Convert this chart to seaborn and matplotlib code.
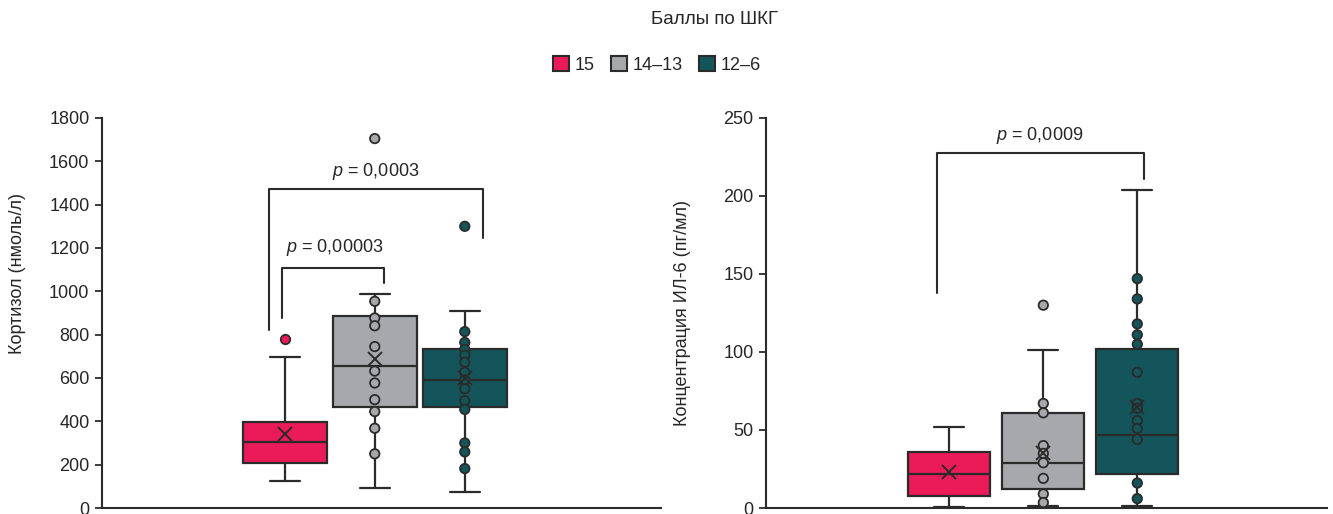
import pandas as pd
import seaborn as sns
import matplotlib.pyplot as plt
from matplotlib.patches import Patch

sns.set_style('ticks')
plt.rcParams['font.family'] = ['Liberation Sans', 'DejaVu Sans']
plt.rcParams['font.size'] = 13
plt.rcParams['mathtext.fontset'] = 'custom'
plt.rcParams['mathtext.it'] = 'Liberation Sans:italic'

groups = ['15', '14–13', '12–6']
colors = ['#EB1A58', '#A7A8AB', '#13555A']
dark = '#2B2B2B'

# Кортизол: сводные значения по группам
cort_q1 = [209, 464, 464]
cort_med = [305, 655, 591]
cort_q3 = [395, 886, 736]
cort_lo = [123, 91, 73]
cort_hi = [695, 986, 909]
cort_mean = [341, 686, 600]
cort_pts_15 = [782]
cort_pts_1413 = [1705, 954, 877, 841, 745, 632, 577, 500, 445, 368, 250]
cort_pts_126 = [1300, 814, 764, 732, 705, 673, 627, 591, 550, 495, 455, 300, 259, 182]

# ИЛ-6
il6_q1 = [8, 12.5, 21.5]
il6_med = [21.5, 29, 47]
il6_q3 = [36, 61, 102]
il6_lo = [0.5, 1, 1]
il6_hi = [52, 101, 204]
il6_mean = [23, 35, 65]
il6_pts_15 = []
il6_pts_1413 = [130, 67, 61, 40, 35, 29, 19, 9, 3.5]
il6_pts_126 = [147, 134, 118, 111, 105, 87, 67, 64, 56, 51, 44, 16, 6]


def long_df(p15, p1413, p126):
    rows = [(groups[0], v) for v in p15] + [(groups[1], v) for v in p1413] + [(groups[2], v) for v in p126]
    return pd.DataFrame(rows, columns=['group', 'value'])


def draw_panel(ax, q1, med, q3, lo, hi, mean, df, width, capw):
    stats = []
    for i in range(3):
        stats.append(dict(q1=q1[i], med=med[i], q3=q3[i], whislo=lo[i], whishi=hi[i],
                          mean=mean[i], fliers=[]))
    bp = ax.bxp(stats, positions=[0, 1, 2], widths=width, capwidths=capw,
                patch_artist=True, showfliers=False, showmeans=False,
                boxprops=dict(edgecolor=dark, linewidth=1.6),
                medianprops=dict(color=dark, linewidth=1.6),
                whiskerprops=dict(color=dark, linewidth=1.6),
                capprops=dict(color=dark, linewidth=1.6))
    for patch, c in zip(bp['boxes'], colors):
        patch.set_facecolor(c)
    sns.stripplot(data=df, x='group', y='value', hue='group', order=groups, hue_order=groups,
                  palette=colors, jitter=False, size=6.8, linewidth=1.3, edgecolor=dark,
                  legend=False, ax=ax, zorder=4)
    ax.plot([0, 1, 2], mean, 'x', color=dark, ms=9.5, mew=1.4, zorder=5)
    ax.set_xticks([])
    ax.set_xlabel('')
    sns.despine(ax=ax)
    for s in ['left', 'bottom']:
        ax.spines[s].set_color(dark)
        ax.spines[s].set_linewidth(1.5)
    ax.tick_params(axis='y', length=5, width=1.3, color=dark, labelsize=13, pad=4)


def bracket(ax, x1, x2, y1, ytop, y2, text, tx, ty):
    ax.plot([x1, x1, x2, x2], [y1, ytop, ytop, y2], color=dark, lw=1.5)
    ax.text(tx, ty, '$p$ = ' + text, ha='center', va='center', fontsize=13)


fig = plt.figure(figsize=(13.33, 5.14), dpi=100)
ax1 = fig.add_axes([0.0765, 0.01167, 0.4194, 0.7588])
ax2 = fig.add_axes([0.5747, 0.01167, 0.4209, 0.7588])

draw_panel(ax1, cort_q1, cort_med, cort_q3, cort_lo, cort_hi, cort_mean,
           long_df(cort_pts_15, cort_pts_1413, cort_pts_126), 0.93, 0.33)
ax1.set_ylim(0, 1800)
ax1.set_xlim(-2.03, 4.18)
ax1.set_yticks(range(0, 1801, 200))
ax1.set_ylabel('Кортизол (нмоль/л)', fontsize=13)
ax1.yaxis.set_label_coords(-0.136, 0.6)
bracket(ax1, -0.17, 2.2, 821, 1472, 1246, '0,0003', 1.01, 1555)
bracket(ax1, -0.03, 1.1, 877, 1108, 1038, '0,00003', 0.55, 1200)

draw_panel(ax2, il6_q1, il6_med, il6_q3, il6_lo, il6_hi, il6_mean,
           long_df(il6_pts_15, il6_pts_1413, il6_pts_126), 0.87, 0.32)
ax2.set_ylim(0, 250)
ax2.set_xlim(-1.95, 4.02)
ax2.set_yticks(range(0, 251, 50))
ax2.set_ylabel('Концентрация ИЛ-6 (пг/мл)', fontsize=13)
ax2.yaxis.set_label_coords(-0.134, 0.5)
bracket(ax2, -0.13, 2.07, 137.8, 227.6, 211, '0,0009', 0.96, 238.5)

fig.text(0.536, 1 - 20 / 514, 'Баллы по ШКГ', ha='center', va='center', fontsize=13.5)
handles = [Patch(facecolor=c, edgecolor=dark, linewidth=1.5) for c in colors]
fig.legend(handles, groups, loc='center', bbox_to_anchor=(0.493, 1 - 65 / 514), ncol=3,
           frameon=False, handlelength=0.9, handleheight=0.9, handletextpad=0.3,
           columnspacing=0.9, fontsize=13)

fig.savefig('out.png', dpi=100)
